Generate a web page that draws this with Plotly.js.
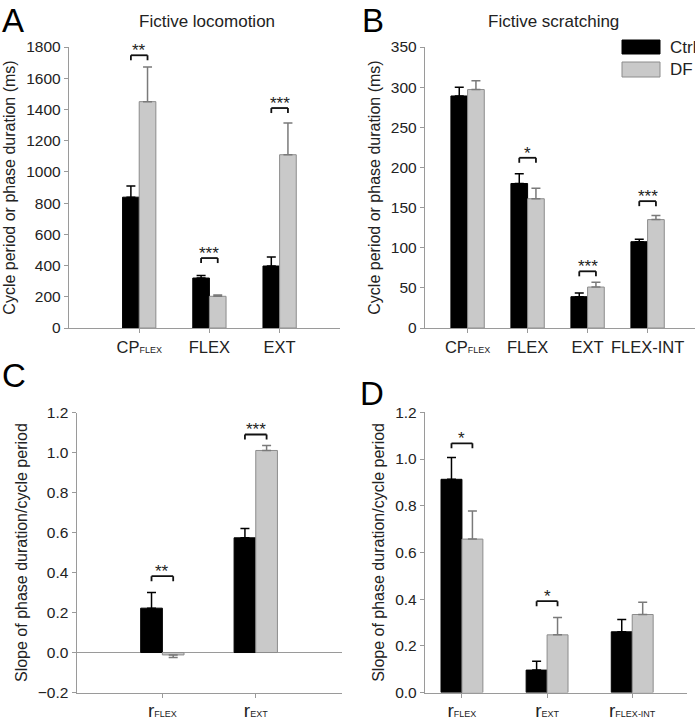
<!DOCTYPE html>
<html>
<head>
<meta charset="utf-8">
<script src="https://cdn.plot.ly/plotly-3.0.1.min.js"></script>
<style>html,body{margin:0;padding:0;background:#fff;}#chart{width:695px;height:719px;}</style>
</head>
<body>
<div id="chart"></div>
<script>
// ---------- Data ----------
const catsA = ['CP<span style="font-size:9px">FLEX</span>', 'FLEX', 'EXT'];
const ctrlA = [838, 320, 397];
const ctrlErrA = [72, 17, 58];
const dfA = [1450, 203, 1110];
const dfErrA = [222, 8, 203];
const sigA = ['**', '***', '***'];
const sigYA = [1747, 448, 1409];

const catsB = ['CP<span style="font-size:9px">FLEX</span>', 'FLEX', 'EXT', 'FLEX-INT'];
const ctrlB = [289, 180, 39, 107.5];
const ctrlErrB = [11, 12, 4.6, 3];
const dfB = [297, 161, 51, 135];
const dfErrB = [11, 13, 6, 5];
const sigB = [null, '*', '***', '***'];
const sigYB = [null, 212, 70.6, 158];

const catsC = ['r<span style="font-size:9px">FLEX</span>', 'r<span style="font-size:9px">EXT</span>'];
const ctrlC = [0.222, 0.574];
const ctrlErrC = [0.078, 0.047];
const dfC = [-0.012, 1.011];
const dfErrC = [0.013, 0.025];
const sigC = ['**', '***'];
const sigYC = [0.382, 1.091];

const catsD = ['r<span style="font-size:9px">FLEX</span>', 'r<span style="font-size:9px">EXT</span>', 'r<span style="font-size:9px">FLEX-INT</span>'];
const ctrlD = [0.913, 0.096, 0.26];
const ctrlErrD = [0.093, 0.038, 0.053];
const dfD = [0.657, 0.247, 0.334];
const dfErrD = [0.12, 0.074, 0.052];
const sigD = ['*', '*', null];
const sigYD = [1.067, 0.391, null];

const seriesNames = ['Ctrl', 'DF'];

// ---------- Styling ----------
const FONT = 'Liberation Sans, Arial, Helvetica, sans-serif';
const AXC = '#9a9a9a';
const TXT = '#222';
const CTRL_FILL = '#000000';
const DF_FILL = '#c9c9c9';
const DF_LINE = '#8c8c8c';
const W = 695, H = 719;

const panels = [
  {cats: catsA, ctrl: ctrlA, ce: ctrlErrA, df: dfA, de: dfErrA, sig: sigA, sigY: sigYA,
   xd: [69, 340], yd: [47, 328], xr: [-1, 2.86], yr: [0, 1800], dt: 200, bw: 0.237, fmt: 'd', xfs: 16.5, xso: 0},
  {cats: catsB, ctrl: ctrlB, ce: ctrlErrB, df: dfB, de: dfErrB, sig: sigB, sigY: sigYB,
   xd: [425, 695], yd: [47, 328], xr: [-0.71, 3.79], yr: [0, 350], dt: 50, bw: 0.278, fmt: 'd', xfs: 16.5, xso: 0},
  {cats: catsC, ctrl: ctrlC, ce: ctrlErrC, df: dfC, de: dfErrC, sig: sigC, sigY: sigYC,
   xd: [76.7, 341.7], yd: [412.7, 692.5], xr: [-0.917, 1.92], yr: [-0.2, 1.2], dt: 0.2, bw: 0.232, fmt: '.1f', zero: true, xfs: 19, xso: -4},
  {cats: catsD, ctrl: ctrlD, ce: ctrlErrD, df: dfD, de: dfErrD, sig: sigD, sigY: sigYD,
   xd: [425, 686.7], yd: [412.3, 692.5], xr: [-0.434, 2.64], yr: [0, 1.2], dt: 0.2, bw: 0.246, fmt: '.1f', xfs: 19, xso: -4}
];

const data = [];
const layout = {
  width: W, height: H,
  margin: {l: 0, r: 0, t: 0, b: 0},
  paper_bgcolor: '#fff', plot_bgcolor: 'rgba(0,0,0,0)',
  showlegend: false,
  barmode: 'group',
  font: {family: FONT, color: TXT},
  shapes: [], annotations: []
};

panels.forEach((p, i) => {
  const n = i === 0 ? '' : String(i + 1);
  const xa = 'x' + n, ya = 'y' + n;
  const up = (v, e) => v.map((val, k) => val >= 0 ? e[k] : 0);
  const dn = (v, e) => v.map((val, k) => val < 0 ? e[k] : 0);
  data.push({
    type: 'bar', name: seriesNames[0], x: p.cats, y: p.ctrl, xaxis: xa, yaxis: ya,
    width: p.bw, offset: -p.bw,
    marker: {color: CTRL_FILL, line: {color: '#000', width: 1}},
    error_y: {type: 'data', symmetric: false, array: up(p.ctrl, p.ce), arrayminus: dn(p.ctrl, p.ce),
              color: '#000', thickness: 1.5, width: 4.5},
    hoverinfo: 'y'
  });
  data.push({
    type: 'bar', name: seriesNames[1], x: p.cats, y: p.df, xaxis: xa, yaxis: ya,
    width: p.bw, offset: 0,
    marker: {color: DF_FILL, line: {color: DF_LINE, width: 1}},
    error_y: {type: 'data', symmetric: false, array: up(p.df, p.de), arrayminus: dn(p.df, p.de),
              color: '#7a7a7a', thickness: 1.5, width: 4.5},
    hoverinfo: 'y'
  });
  const ticks = [];
  for (let v = p.yr[0]; v <= p.yr[1] + 1e-9; v += p.dt) ticks.push(+v.toFixed(4));
  layout['xaxis' + n] = {
    domain: [p.xd[0] / W, p.xd[1] / W], anchor: ya, range: p.xr,
    type: 'category', categoryorder: 'array', categoryarray: p.cats,
    showline: true, linecolor: AXC, linewidth: 1.2, showgrid: false, zeroline: false,
    ticks: 'outside', ticklen: 4, tickcolor: AXC, tickwidth: 1, ticklabelstandoff: p.xso,
    tickfont: {size: p.xfs, color: TXT, family: FONT}, fixedrange: true
  };
  layout['yaxis' + n] = {
    domain: [1 - p.yd[1] / H, 1 - p.yd[0] / H], anchor: xa, range: p.yr,
    showline: true, linecolor: AXC, linewidth: 1.2, showgrid: false,
    zeroline: !!p.zero, zerolinecolor: AXC, zerolinewidth: 1.2,
    tickmode: 'array', tickvals: ticks, tickformat: p.fmt,
    ticks: 'outside', ticklen: 4, tickcolor: AXC, tickwidth: 1,
    tickfont: {size: 15.5, color: TXT, family: FONT},
    title: {text: i < 2 ? 'Cycle period or phase duration (ms)' : 'Slope of phase duration/cycle period',
            font: {size: 16, color: TXT, family: FONT}, standoff: 6},
    fixedrange: true
  };
  // significance brackets
  const hpx = p.yd[1] - p.yd[0];
  const leg = 5 * (p.yr[1] - p.yr[0]) / hpx;
  p.sig.forEach((s, k) => {
    if (!s) return;
    const x0 = k - p.bw / 2, x1 = k + p.bw / 2, yb = p.sigY[k];
    const ln = {type: 'line', xref: xa, yref: ya, line: {color: '#111', width: 1.8}};
    layout.shapes.push(Object.assign({}, ln, {x0: x0, x1: x1, y0: yb, y1: yb}));
    layout.shapes.push(Object.assign({}, ln, {x0: x0, x1: x0, y0: yb, y1: yb - leg}));
    layout.shapes.push(Object.assign({}, ln, {x0: x1, x1: x1, y0: yb, y1: yb - leg}));
    layout.annotations.push({xref: xa, yref: ya, x: k, y: yb, text: s, showarrow: false,
      xanchor: 'center', yanchor: 'bottom', yshift: -7, font: {size: 17, color: '#222', family: FONT}});
  });
});

// panel titles
layout.annotations.push({xref: 'paper', yref: 'paper', x: 207 / W, y: 1 - 21 / H, text: 'Fictive locomotion',
  showarrow: false, xanchor: 'center', yanchor: 'middle', font: {size: 17, color: TXT, family: FONT}});
layout.annotations.push({xref: 'paper', yref: 'paper', x: 553 / W, y: 1 - 21 / H, text: 'Fictive scratching',
  showarrow: false, xanchor: 'center', yanchor: 'middle', font: {size: 17, color: TXT, family: FONT}});
// panel letters
[['A', 0, 0], ['B', 360, 0], ['C', 0, 355], ['D', 358, 373]].forEach(([t, x, y]) => {
  layout.annotations.push({xref: 'paper', yref: 'paper', x: x / W, y: 1 - y / H, text: t, showarrow: false,
    xanchor: 'left', yanchor: 'top', font: {size: 33, color: '#000', family: FONT}});
});
// legend (panel B)
const legItems = [[seriesNames[0], CTRL_FILL, '#000', 40, 54], [seriesNames[1], DF_FILL, DF_LINE, 62, 77]];
legItems.forEach(([name, fill, line, y0, y1]) => {
  layout.shapes.push({type: 'rect', xref: 'paper', yref: 'paper', x0: 622 / W, x1: 660 / W,
    y0: 1 - y1 / H, y1: 1 - y0 / H, fillcolor: fill, line: {color: line, width: 1}});
  layout.annotations.push({xref: 'paper', yref: 'paper', x: 668 / W, y: 1 - ((y0 + y1) / 2) / H, text: name,
    showarrow: false, xanchor: 'left', yanchor: 'middle', font: {size: 17, color: TXT, family: FONT}});
});

Plotly.newPlot('chart', data, layout, {displayModeBar: false, staticPlot: true});
</script>
</body>
</html>
